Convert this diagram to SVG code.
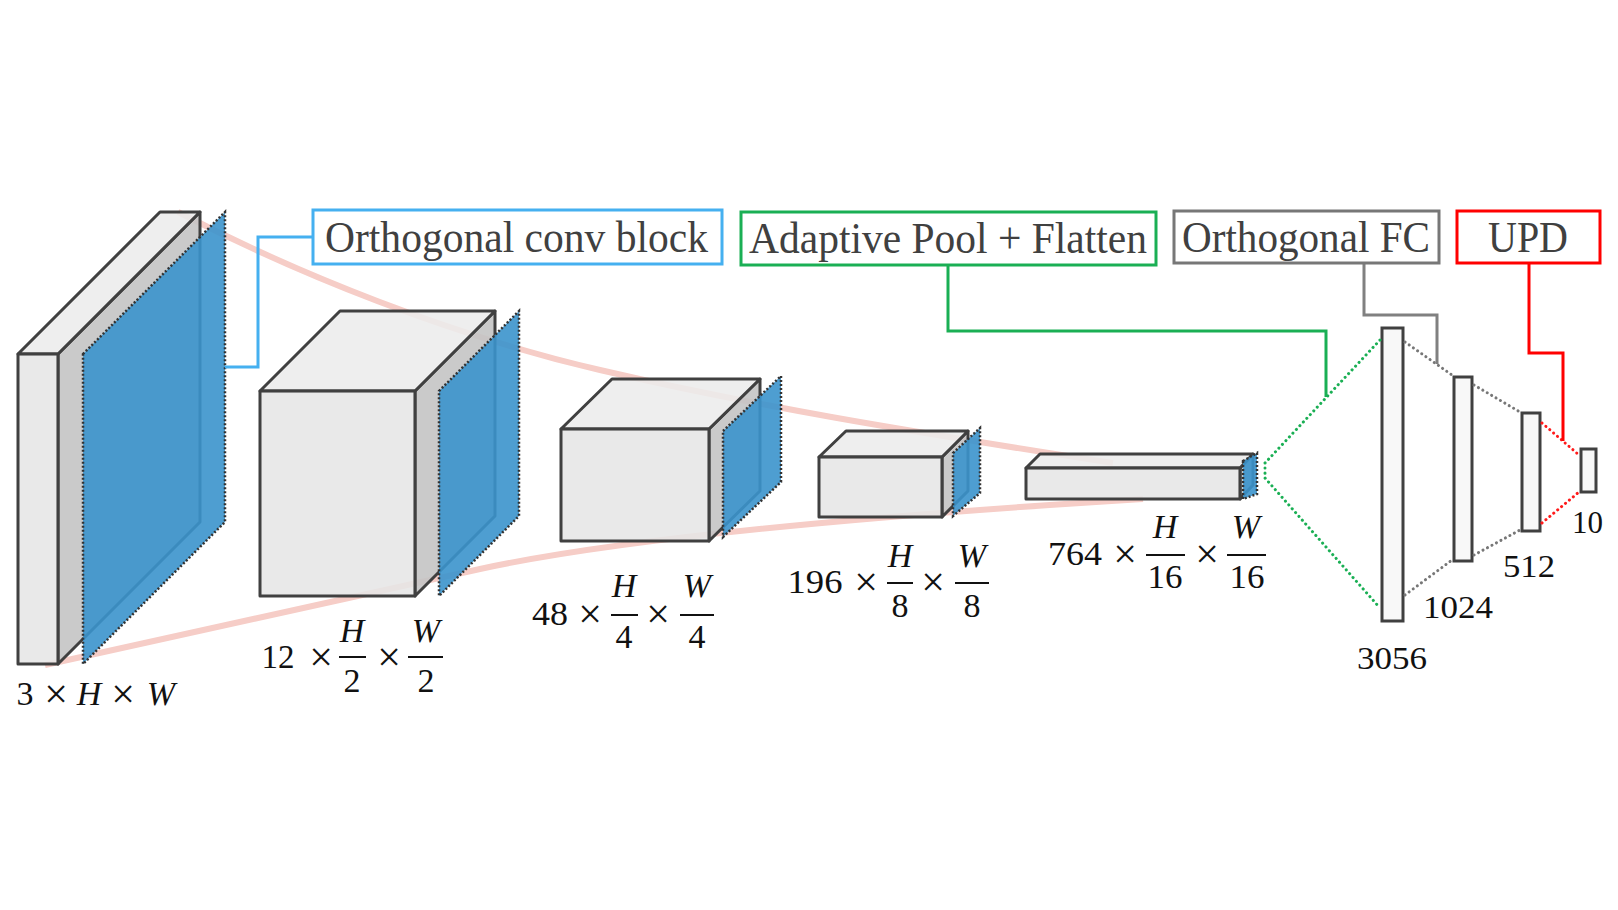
<svg xmlns="http://www.w3.org/2000/svg" width="1618" height="910" viewBox="0 0 1618 910">
<style>
.front{fill:#e6e6e6;fill-opacity:0.88;stroke:#404040;stroke-width:3;stroke-linejoin:round}
.top{fill:#ececec;fill-opacity:0.88;stroke:#404040;stroke-width:3;stroke-linejoin:round}
.side{fill:#c4c4c4;fill-opacity:0.9;stroke:#404040;stroke-width:3;stroke-linejoin:round}
.blue{fill:#3b93cc;fill-opacity:0.9;stroke:#333;stroke-width:2.5;stroke-dasharray:2 2}
.pink{fill:none;stroke:#f6cdc7;stroke-width:6}
.fc{fill:#f8f8f8;stroke:#404040;stroke-width:3}
.lbl{font-family:"Liberation Serif","Times New Roman",serif;font-size:45px;fill:#404040}
.math{font-family:"Liberation Serif","Times New Roman",serif;font-size:34px;fill:#111;text-anchor:middle}
.x{font-size:42px}
.it{font-style:italic}
.num{font-family:"Liberation Serif","Times New Roman",serif;font-size:32px;fill:#111}
.bar{stroke:#111;stroke-width:2}
.dot{fill:none;stroke-width:3;stroke-linecap:round;stroke-dasharray:0.1 5}
.conn{fill:none;stroke-width:3}
</style>
<rect width="1618" height="910" fill="#ffffff"/>

<g id="funnel">
<path class="pink" d="M178,212 C300,275 450,335 600,370 S900,430 1113,463"/>
<path class="pink" d="M45,665 L480,569 C600,543 800,520 1143,499"/>
</g>

<g id="block1">
<polygon class="side" points="58,354 200,212 200,522 58,664"/>
<polygon class="top" points="18,354 160,212 200,212 58,354"/>
<rect class="front" x="18" y="354" width="40" height="310"/>
<polygon class="blue" points="83,354 225,212 225,522 83,664"/>
</g>

<g id="block2">
<polygon class="side" points="415,391 495,311 495,516 415,596"/>
<polygon class="top" points="260,391 340,311 495,311 415,391"/>
<rect class="front" x="260" y="391" width="155" height="205"/>
<polygon class="blue" points="439,391 519,311 519,516 439,596"/>
</g>

<g id="block3">
<polygon class="side" points="709,429 760,379 760,491 709,541"/>
<polygon class="top" points="561,429 612,379 760,379 709,429"/>
<rect class="front" x="561" y="429" width="148" height="112"/>
<polygon class="blue" points="723,431 781,376 781,482 723,537"/>
</g>

<g id="block4">
<polygon class="side" points="942,457 968,431 968,491 942,517"/>
<polygon class="top" points="819,457 846,431 968,431 942,457"/>
<rect class="front" x="819" y="457" width="123" height="60"/>
<polygon class="blue" points="953,453 980,428 980,493 953,516"/>
</g>

<g id="block5">
<polygon class="side" points="1240,468 1253,454 1253,485 1240,499"/>
<polygon class="top" points="1026,468 1040,454 1253,454 1240,468"/>
<rect class="front" x="1026" y="468" width="214" height="31"/>
<polygon class="blue" points="1243,461 1257,453 1257,494 1243,499"/>
</g>

<g id="fc1"><rect class="fc" x="1382" y="328" width="21" height="293"/></g>
<g id="fc2"><rect class="fc" x="1454" y="377" width="18" height="184"/></g>
<g id="fc3"><rect class="fc" x="1522" y="413" width="18" height="118"/></g>
<g id="fc4"><rect class="fc" x="1581" y="449" width="15" height="43"/></g>

<g id="connectors">
<polyline class="dot" stroke="#1aaf54" points="1380,340 1265,463 1265,478 1380,608"/>
<line class="dot" stroke="#777" x1="1405" y1="342" x2="1452" y2="375"/>
<line class="dot" stroke="#777" x1="1405" y1="595" x2="1452" y2="560"/>
<line class="dot" stroke="#777" x1="1474" y1="385" x2="1520" y2="412"/>
<line class="dot" stroke="#777" x1="1474" y1="555" x2="1520" y2="530"/>
<line class="dot" stroke="#ff1a1a" x1="1542" y1="423" x2="1579" y2="455"/>
<line class="dot" stroke="#ff1a1a" x1="1542" y1="523" x2="1579" y2="492"/>
<polyline class="conn" stroke="#45b0f0" points="313,237 258,237 258,367 225,367"/>
<polyline class="conn" stroke="#1aaf54" points="948,265 948,331 1326,331 1326,397"/>
<polyline class="conn" stroke="#808080" points="1364,263 1364,315 1437,315 1437,364"/>
<polyline class="conn" stroke="#ff0000" points="1529,263 1529,353 1563,353 1563,441"/>
</g>

<g id="box-conv">
<rect x="313" y="210" width="409" height="54" fill="#fff" stroke="#45b0f0" stroke-width="3"/>
<text class="lbl" x="325" y="252" textLength="383" lengthAdjust="spacingAndGlyphs">Orthogonal conv block</text>
</g>
<g id="box-pool">
<rect x="741" y="212" width="415" height="53" fill="#fff" stroke="#1aaf54" stroke-width="3"/>
<text class="lbl" x="749" y="253" textLength="398" lengthAdjust="spacingAndGlyphs">Adaptive Pool + Flatten</text>
</g>
<g id="box-fc">
<rect x="1174" y="211" width="265" height="52" fill="#fff" stroke="#777" stroke-width="3"/>
<text class="lbl" x="1182" y="252" textLength="248" lengthAdjust="spacingAndGlyphs">Orthogonal FC</text>
</g>
<g id="box-upd">
<rect x="1457" y="211" width="143" height="52" fill="#fff" stroke="#ff0000" stroke-width="3"/>
<text class="lbl" x="1488" y="252" textLength="80" lengthAdjust="spacingAndGlyphs">UPD</text>
</g>

<g id="label1">
<text class="math" x="25" y="705">3</text>
<text class="math x" x="56" y="708">×</text>
<text class="math it" x="89" y="705">H</text>
<text class="math x" x="123" y="708">×</text>
<text class="math it" x="161" y="705">W</text>
</g>
<g id="label2">
<text class="math" x="278" y="668" textLength="33" lengthAdjust="spacingAndGlyphs">12</text>
<text class="math x" x="321" y="671">×</text>
<line class="bar" x1="339" y1="657" x2="366" y2="657"/>
<text class="math it" x="352" y="642">H</text>
<text class="math" x="352" y="692">2</text>
<text class="math x" x="389" y="671">×</text>
<line class="bar" x1="408" y1="657" x2="443" y2="657"/>
<text class="math it" x="426" y="642">W</text>
<text class="math" x="426" y="692">2</text>
</g>
<g id="label3">
<text class="math" x="550" y="625" textLength="36" lengthAdjust="spacingAndGlyphs">48</text>
<text class="math x" x="590" y="628">×</text>
<line class="bar" x1="611" y1="615" x2="638" y2="615"/>
<text class="math it" x="624" y="597">H</text>
<text class="math" x="624" y="648">4</text>
<text class="math x" x="658" y="628">×</text>
<line class="bar" x1="680" y1="615" x2="714" y2="615"/>
<text class="math it" x="697" y="597">W</text>
<text class="math" x="697" y="648">4</text>
</g>
<g id="label4">
<text class="math" x="815" y="593" textLength="55" lengthAdjust="spacingAndGlyphs">196</text>
<text class="math x" x="866" y="596">×</text>
<line class="bar" x1="887" y1="583" x2="913" y2="583"/>
<text class="math it" x="900" y="567">H</text>
<text class="math" x="900" y="617">8</text>
<text class="math x" x="933" y="596">×</text>
<line class="bar" x1="955" y1="583" x2="989" y2="583"/>
<text class="math it" x="972" y="567">W</text>
<text class="math" x="972" y="617">8</text>
</g>
<g id="label5">
<text class="math" x="1075" y="565" textLength="54" lengthAdjust="spacingAndGlyphs">764</text>
<text class="math x" x="1125" y="568">×</text>
<line class="bar" x1="1146" y1="555" x2="1185" y2="555"/>
<text class="math it" x="1165" y="538">H</text>
<text class="math" x="1165" y="588" textLength="35" lengthAdjust="spacingAndGlyphs">16</text>
<text class="math x" x="1207" y="568">×</text>
<line class="bar" x1="1227" y1="555" x2="1266" y2="555"/>
<text class="math it" x="1246" y="538">W</text>
<text class="math" x="1247" y="588" textLength="35" lengthAdjust="spacingAndGlyphs">16</text>
</g>
<g id="fc-labels">
<text class="num" x="1572" y="533" textLength="31" lengthAdjust="spacingAndGlyphs">10</text>
<text class="num" x="1503" y="577" textLength="52" lengthAdjust="spacingAndGlyphs">512</text>
<text class="num" x="1423" y="618" textLength="70" lengthAdjust="spacingAndGlyphs">1024</text>
<text class="num" x="1357" y="669" textLength="70" lengthAdjust="spacingAndGlyphs">3056</text>
</g>
</svg>
